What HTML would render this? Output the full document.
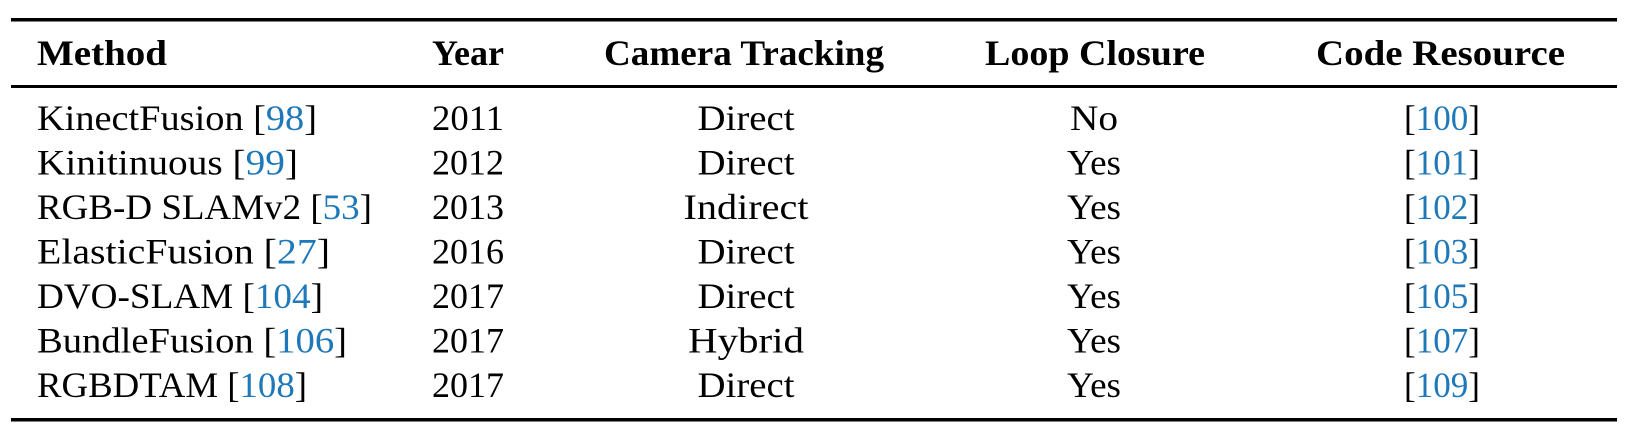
<!DOCTYPE html>
<html><head><meta charset="utf-8"><style>
html,body{margin:0;padding:0;background:#fff;}
svg{display:block;}
text{font-family:"Liberation Serif",serif;font-size:36px;fill:#000;}
.b{font-weight:bold;}
.r{fill:#1f78b8;}
</style></head><body>
<svg width="1634" height="442" viewBox="0 0 1634 442" xmlns="http://www.w3.org/2000/svg">
<rect x="11" y="18" width="1606" height="3.5" fill="#000"/>
<rect x="11" y="85" width="1606" height="3" fill="#000"/>
<rect x="11" y="418" width="1606" height="3.5" fill="#000"/>

<text class="b" x="37" y="65" textLength="130" lengthAdjust="spacingAndGlyphs">Method</text>
<text class="b" x="432" y="65" textLength="72" lengthAdjust="spacingAndGlyphs">Year</text>
<text class="b" x="604" y="65" textLength="280" lengthAdjust="spacingAndGlyphs">Camera Tracking</text>
<text class="b" x="985" y="65" textLength="220" lengthAdjust="spacingAndGlyphs">Loop Closure</text>
<text class="b" x="1316" y="65" textLength="249" lengthAdjust="spacingAndGlyphs">Code Resource</text>

<g>
<text x="37" y="130" textLength="280" lengthAdjust="spacingAndGlyphs">KinectFusion [<tspan class="r">98</tspan>]</text>
<text x="37" y="174.5" textLength="261" lengthAdjust="spacingAndGlyphs">Kinitinuous [<tspan class="r">99</tspan>]</text>
<text x="37" y="219" textLength="335" lengthAdjust="spacingAndGlyphs">RGB-D SLAMv2 [<tspan class="r">53</tspan>]</text>
<text x="37" y="263.5" textLength="293" lengthAdjust="spacingAndGlyphs">ElasticFusion [<tspan class="r">27</tspan>]</text>
<text x="37" y="308" textLength="286" lengthAdjust="spacingAndGlyphs">DVO-SLAM [<tspan class="r">104</tspan>]</text>
<text x="37" y="352.5" textLength="310" lengthAdjust="spacingAndGlyphs">BundleFusion [<tspan class="r">106</tspan>]</text>
<text x="37" y="397" textLength="270" lengthAdjust="spacingAndGlyphs">RGBDTAM [<tspan class="r">108</tspan>]</text>
</g>
<g>
<text x="432" y="130" textLength="72" lengthAdjust="spacingAndGlyphs">2011</text>
<text x="432" y="174.5" textLength="72" lengthAdjust="spacingAndGlyphs">2012</text>
<text x="432" y="219" textLength="72" lengthAdjust="spacingAndGlyphs">2013</text>
<text x="432" y="263.5" textLength="72" lengthAdjust="spacingAndGlyphs">2016</text>
<text x="432" y="308" textLength="72" lengthAdjust="spacingAndGlyphs">2017</text>
<text x="432" y="352.5" textLength="72" lengthAdjust="spacingAndGlyphs">2017</text>
<text x="432" y="397" textLength="72" lengthAdjust="spacingAndGlyphs">2017</text>
</g>
<g text-anchor="middle">
<text x="746" y="130" textLength="97" lengthAdjust="spacingAndGlyphs">Direct</text>
<text x="746" y="174.5" textLength="97" lengthAdjust="spacingAndGlyphs">Direct</text>
<text x="746" y="219" textLength="125" lengthAdjust="spacingAndGlyphs">Indirect</text>
<text x="746" y="263.5" textLength="97" lengthAdjust="spacingAndGlyphs">Direct</text>
<text x="746" y="308" textLength="97" lengthAdjust="spacingAndGlyphs">Direct</text>
<text x="746" y="352.5" textLength="116" lengthAdjust="spacingAndGlyphs">Hybrid</text>
<text x="746" y="397" textLength="97" lengthAdjust="spacingAndGlyphs">Direct</text>

<text x="1094" y="130" textLength="48" lengthAdjust="spacingAndGlyphs">No</text>
<text x="1094" y="174.5" textLength="54" lengthAdjust="spacingAndGlyphs">Yes</text>
<text x="1094" y="219" textLength="54" lengthAdjust="spacingAndGlyphs">Yes</text>
<text x="1094" y="263.5" textLength="54" lengthAdjust="spacingAndGlyphs">Yes</text>
<text x="1094" y="308" textLength="54" lengthAdjust="spacingAndGlyphs">Yes</text>
<text x="1094" y="352.5" textLength="54" lengthAdjust="spacingAndGlyphs">Yes</text>
<text x="1094" y="397" textLength="54" lengthAdjust="spacingAndGlyphs">Yes</text>

<text x="1442" y="130" textLength="76" lengthAdjust="spacingAndGlyphs">[<tspan class="r">100</tspan>]</text>
<text x="1442" y="174.5" textLength="76" lengthAdjust="spacingAndGlyphs">[<tspan class="r">101</tspan>]</text>
<text x="1442" y="219" textLength="76" lengthAdjust="spacingAndGlyphs">[<tspan class="r">102</tspan>]</text>
<text x="1442" y="263.5" textLength="76" lengthAdjust="spacingAndGlyphs">[<tspan class="r">103</tspan>]</text>
<text x="1442" y="308" textLength="76" lengthAdjust="spacingAndGlyphs">[<tspan class="r">105</tspan>]</text>
<text x="1442" y="352.5" textLength="76" lengthAdjust="spacingAndGlyphs">[<tspan class="r">107</tspan>]</text>
<text x="1442" y="397" textLength="76" lengthAdjust="spacingAndGlyphs">[<tspan class="r">109</tspan>]</text>
</g>
</svg>
</body></html>
